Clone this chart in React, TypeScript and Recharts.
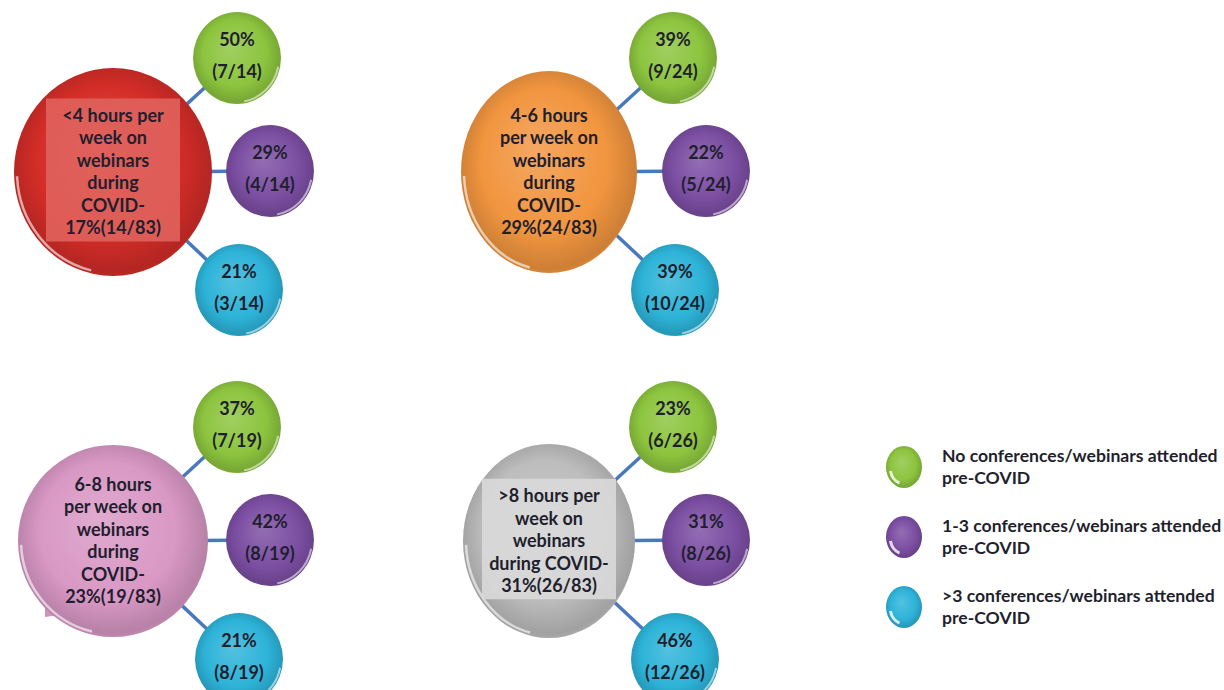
import React from 'react';
import { ScatterChart, Scatter, XAxis, YAxis, ReferenceLine, Legend } from 'recharts';

const W = 1224;
const H = 690;

// hour groups (big bubbles)
const hourGroups = ['<4 hours', '4-6 hours', '6-8 hours', '>8 hours'];
const hubLines = [
  ['<4 hours per', 'week on', 'webinars', 'during', 'COVID-'],
  ['4-6 hours', 'per week on', 'webinars', 'during', 'COVID-'],
  ['6-8 hours', 'per week on', 'webinars', 'during', 'COVID-'],
  ['>8 hours per', 'week on', 'webinars', 'during COVID-'],
];
const groupPct = [17, 29, 23, 31];
const groupN = [14, 24, 19, 26];
const totalN = 83;

// pre-COVID attendance (small bubbles)
const categories = [
  'No conferences/webinars attended pre-COVID',
  '1-3 conferences/webinars attended pre-COVID',
  '>3 conferences/webinars attended pre-COVID',
];
const nonePct = [50, 39, 37, 23];
const noneN = [7, 9, 7, 6];
const fewPct = [29, 22, 42, 31];
const fewN = [4, 5, 8, 8];
const manyPct = [21, 39, 21, 46];
const manyN = [3, 10, 8, 12];

const catPct = [nonePct, fewPct, manyPct];
const catN = [noneN, fewN, manyN];

// layout / styles
const COL_X = [113, 549];
const ROW_Y = [172, 541];
const hubStyle = [
  { fill: '#d42d28', box: '#e0625c', tail: false, rx: 99, ry: 104 },
  { fill: '#f1953f', box: null, tail: false, rx: 88, ry: 101 },
  { fill: '#d998c5', box: null, tail: true, rx: 95, ry: 96 },
  { fill: '#bdbdbd', box: '#d9d9d9', tail: false, rx: 86, ry: 97 },
];
const catStyle = [
  { fill: '#8cc43e', dx: 124, dy: -114 },
  { fill: '#7b4ea2', dx: 157, dy: -1 },
  { fill: '#2db3d8', dx: 126, dy: 118 },
];
const SAT_RX = 44;
const SAT_RY = 46;
const TEXT = '#1f1f2e';
const FONT = 'Lato, "Noto Sans", sans-serif';

const hubX = (i: number) => COL_X[i % 2];
const hubY = (i: number) => ROW_Y[Math.floor(i / 2)];

const hubData = hourGroups.map((g, i) => ({ x: hubX(i), y: hubY(i), i, name: g }));
const satData = categories.map((_, k) =>
  hourGroups.map((g, i) => ({
    x: hubX(i) + catStyle[k].dx,
    y: hubY(i) + catStyle[k].dy,
    i,
    k,
    pct: catPct[k][i],
    n: catN[k][i],
  }))
);

const mix = (hex: string, target: number, t: number) => {
  const v = parseInt(hex.slice(1), 16);
  const c = [(v >> 16) & 255, (v >> 8) & 255, v & 255].map((ch) => Math.round(ch + (target - ch) * t));
  return `rgb(${c[0]},${c[1]},${c[2]})`;
};

const Gradient = ({ id, color }: { id: string; color: string }) => (
  <radialGradient id={id} cx="50%" cy="48%" r="55%" fx="42%" fy="38%">
    <stop offset="0%" stopColor={mix(color, 255, 0.18)} />
    <stop offset="65%" stopColor={color} />
    <stop offset="92%" stopColor={mix(color, 0, 0.15)} />
    <stop offset="100%" stopColor={mix(color, 0, 0.05)} />
  </radialGradient>
);

const rimArc = (cx: number, cy: number, rx: number, ry: number, a0: number, a1: number) => {
  const p = (a: number) => [cx + rx * Math.cos(a), cy + ry * Math.sin(a)];
  const [x0, y0] = p(a0);
  const [x1, y1] = p(a1);
  return `M${x0},${y0} A${rx},${ry} 0 0 1 ${x1},${y1}`;
};

const HubShape = (props: any) => {
  const { cx, cy, payload } = props;
  const i = payload.i;
  const s = hubStyle[i];
  const lines = [...hubLines[i], `${groupPct[i]}%(${groupN[i]}/${totalN})`];
  const lh = 22.5;
  const boxH = lines.length * lh + 8;
  return (
    <g>
      {s.tail && (
        <path
          d={`M${cx - 68},${cy + 44} L${cx - 68},${cy + 76} L${cx - 40},${cy + 72} Z`}
          fill={mix(s.fill, 0, 0.04)}
        />
      )}
      <ellipse cx={cx} cy={cy} rx={s.rx} ry={s.ry} fill={`url(#hub-grad-${i})`} />
      <path
        d={rimArc(cx, cy, s.rx - 3, s.ry - 3, 1.8, 3.1)}
        stroke="#ffffff"
        strokeOpacity={0.6}
        strokeWidth={2.5}
        fill="none"
      />
      {s.box && (
        <rect x={cx - 67} y={cy - boxH / 2 - 2} width={134} height={boxH} fill={s.box} fillOpacity={0.9} />
      )}
      {lines.map((l, j) => (
        <text
          key={j}
          x={cx}
          y={cy + (j - (lines.length - 1) / 2) * lh + 6}
          textAnchor="middle"
          fontFamily={FONT}
          fontWeight={700}
          fontSize={18}
          fill={TEXT}
        >
          {l}
        </text>
      ))}
    </g>
  );
};

const SatShape = (props: any) => {
  const { cx, cy, payload } = props;
  return (
    <g>
      <ellipse cx={cx} cy={cy} rx={SAT_RX} ry={SAT_RY} fill={`url(#cat-grad-${payload.k})`} />
      <path
        d={rimArc(cx, cy, SAT_RX - 2, SAT_RY - 2, 0.2, 1.4)}
        stroke="#ffffff"
        strokeOpacity={0.55}
        strokeWidth={2}
        fill="none"
      />
      <text x={cx} y={cy - 12} textAnchor="middle" fontFamily={FONT} fontWeight={700} fontSize={18} fill={TEXT}>
        {payload.pct}%
      </text>
      <text x={cx} y={cy + 20} textAnchor="middle" fontFamily={FONT} fontWeight={700} fontSize={18} fill={TEXT}>
        ({payload.n}/{groupN[payload.i]})
      </text>
    </g>
  );
};

// connector segments from hub edge to satellite edge
const edge = (rx: number, ry: number, ux: number, uy: number) => 1 / Math.sqrt((ux / rx) ** 2 + (uy / ry) ** 2);
const connectors = hourGroups.flatMap((_, i) =>
  catStyle.map((c, k) => {
    const len = Math.hypot(c.dx, c.dy);
    const ux = c.dx / len;
    const uy = c.dy / len;
    const a = edge(hubStyle[i].rx, hubStyle[i].ry, ux, uy) - 2;
    const b = len - edge(SAT_RX, SAT_RY, ux, uy) + 2;
    return {
      key: `${i}-${k}`,
      seg: [
        { x: hubX(i) + ux * a, y: hubY(i) + uy * a },
        { x: hubX(i) + ux * b, y: hubY(i) + uy * b },
      ],
    };
  })
);

const LegendContent = () => (
  <div style={{ fontFamily: FONT, color: TEXT }}>
    {categories.map((c, k) => {
      const cut = c.lastIndexOf(' ');
      return (
        <div key={k} style={{ display: 'flex', alignItems: 'center', height: 70 }}>
          <svg width={40} height={48} style={{ flex: 'none' }}>
            <ellipse cx={20} cy={24} rx={18} ry={21} fill={`url(#cat-grad-${k})`} />
            <path d={rimArc(20, 24, 14, 17, 1.9, 2.9)} stroke="#fff" strokeOpacity={0.8} strokeWidth={3} fill="none" />
          </svg>
          <div style={{ marginLeft: 18, fontWeight: 700, fontSize: 17.6, lineHeight: '22px', whiteSpace: 'nowrap' }}>
            <div>{c.slice(0, cut)}</div>
            <div>{c.slice(cut + 1)}</div>
          </div>
        </div>
      );
    })}
  </div>
);

export default function App() {
  return (
    <div style={{ position: 'absolute', left: 0, top: 0, width: W, height: H, background: '#ffffff' }}>
      <ScatterChart width={W} height={H} margin={{ top: 0, right: 0, bottom: 0, left: 0 }}>
        <defs>
          {hubStyle.map((s, i) => (
            <Gradient key={`h${i}`} id={`hub-grad-${i}`} color={s.fill} />
          ))}
          {catStyle.map((s, k) => (
            <Gradient key={`c${k}`} id={`cat-grad-${k}`} color={s.fill} />
          ))}
        </defs>
        <XAxis type="number" dataKey="x" domain={[0, W]} allowDataOverflow hide />
        <YAxis type="number" dataKey="y" domain={[0, H]} allowDataOverflow reversed hide />
        {connectors.map((c) => (
          <ReferenceLine key={c.key} segment={c.seg} stroke="#4a78bf" strokeWidth={3.5} ifOverflow="visible" />
        ))}
        <Scatter name="hours" data={hubData} legendType="none" shape={HubShape} isAnimationActive={false} />
        {categories.map((c, k) => (
          <Scatter
            key={c}
            name={c}
            data={satData[k]}
            fill={catStyle[k].fill}
            shape={SatShape}
            isAnimationActive={false}
          />
        ))}
        <Legend
          layout="horizontal"
          verticalAlign="middle"
          align="center"
          content={LegendContent}
          wrapperStyle={{ position: 'absolute', left: 884, top: 432, width: 340 }}
        />
      </ScatterChart>
    </div>
  );
}
